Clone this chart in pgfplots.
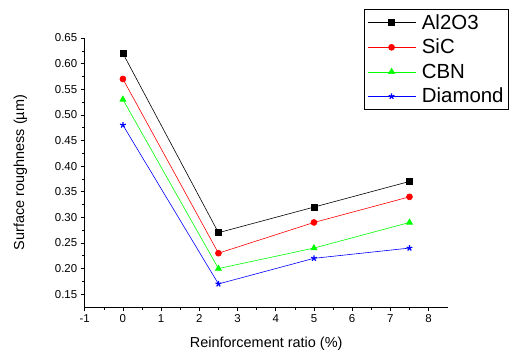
\documentclass[border=0pt]{standalone}
\usepackage{pgfplots}
\pgfplotsset{compat=1.18}
\usepackage{fontspec}
\setmainfont{Liberation Sans}
\begin{document}
\begin{tikzpicture}
\useasboundingbox (-84.7bp,-45bp) rectangle (425.3bp,307bp);
\begin{axis}[
  scale only axis,
  width=363bp, height=269bp,
  xmin=-1, xmax=8.5, ymin=0.125, ymax=0.65,
  axis lines=left,
  axis line style={-, line width=0.8pt},
  xtick={-1,0,...,8},
  ytick={0.15,0.2,...,0.66},
  minor x tick num=1,
  minor y tick num=1,
  tick align=outside,
  major tick length=4bp,
  minor tick length=2.5bp,
  tick style={black, line width=0.6pt},
  /pgf/number format/assume math mode=true,
  yticklabel style={/pgf/number format/.cd, fixed, fixed zerofill, precision=2},
  xticklabel style={/pgf/number format/.cd, fixed},
  ticklabel style={font=\fontsize{11.5}{13}\selectfont},
  xlabel={Reinforcement ratio (\%)},
  ylabel={Surface roughness (µm)},
  label style={font=\fontsize{14.5}{16}\selectfont},
  xlabel style={yshift=-8bp},
  ylabel style={yshift=21bp},
  legend style={at={(1.169,1.108)}, anchor=north east, draw=black, line width=0.9pt,
    font=\fontsize{20.5}{22}\selectfont, row sep=4.5bp, inner xsep=3bp, inner ysep=3bp,
    cells={anchor=west}},
  legend image post style={line width=0.6pt},
  legend image code/.code={\draw[mark repeat=2,mark phase=2] plot coordinates {(0bp,0bp) (24bp,0bp) (48bp,0bp)};\path (52bp,0bp);},
  every axis plot/.append style={line width=0.6pt, mark size=3bp},
]
\addplot[black, mark=square*, mark options={fill=black}] coordinates {(0,0.62) (2.5,0.27) (5,0.32) (7.5,0.37)};
\addlegendentry{Al2O3}
\addplot[red, mark=*, mark options={fill=red}] coordinates {(0,0.57) (2.5,0.23) (5,0.29) (7.5,0.34)};
\addlegendentry{SiC}
\addplot[green, mark=triangle*, mark options={fill=green}, mark size=3.5bp] coordinates {(0,0.53) (2.5,0.20) (5,0.24) (7.5,0.29)};
\addlegendentry{CBN}
\addplot[blue, mark=star, mark options={fill=blue, line width=1.2pt}] coordinates {(0,0.48) (2.5,0.17) (5,0.22) (7.5,0.24)};
\addlegendentry{Diamond}
\end{axis}
\end{tikzpicture}
\end{document}
